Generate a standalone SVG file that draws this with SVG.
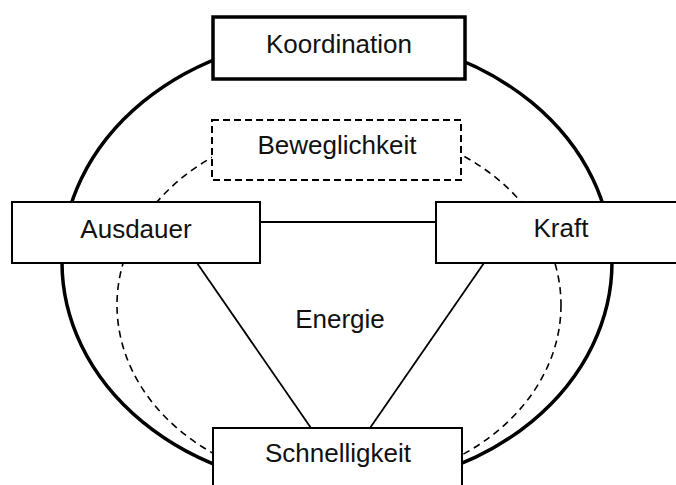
<svg xmlns="http://www.w3.org/2000/svg" width="676" height="485" viewBox="0 0 676 485">
<style>
.box{fill:#fff;stroke:#000;stroke-width:2}
.thick{fill:#fff;stroke:#000;stroke-width:3.5}
.dbox{fill:#fff;stroke:#000;stroke-width:2;stroke-dasharray:7 4}
.lbl{font-family:"Liberation Sans",Arial,sans-serif;font-size:26px;fill:#111;text-anchor:middle}
.con{stroke:#000;stroke-width:1.8;fill:none}
</style>
<rect width="676" height="485" fill="#fff"/>
<g id="rings">
<ellipse cx="337" cy="262" rx="275" ry="226" fill="none" stroke="#000" stroke-width="3.5"/>
<ellipse cx="339" cy="305" rx="222" ry="180" fill="none" stroke="#000" stroke-width="1.6" stroke-dasharray="7 5"/>
</g>
<g id="connectors">
<line class="con" x1="260" y1="222" x2="436" y2="222"/>
<line class="con" x1="197" y1="263" x2="311" y2="428"/>
<line class="con" x1="484" y1="263" x2="370" y2="428"/>
</g>
<g id="energie"><text class="lbl" x="340" y="328">Energie</text></g>
<g id="koordination"><rect class="thick" x="213" y="17" width="252" height="62"/><text class="lbl" x="339" y="53">Koordination</text></g>
<g id="beweglichkeit"><rect class="dbox" x="212" y="120" width="249" height="60"/><text class="lbl" x="337" y="154">Beweglichkeit</text></g>
<g id="ausdauer"><rect class="box" x="12" y="202" width="248" height="61"/><text class="lbl" x="136" y="238">Ausdauer</text></g>
<g id="kraft"><rect class="box" x="436" y="202" width="250" height="61"/><text class="lbl" x="561" y="237">Kraft</text></g>
<g id="schnelligkeit"><rect class="box" x="213" y="428" width="249" height="62"/><text class="lbl" x="338" y="462">Schnelligkeit</text></g>
</svg>
